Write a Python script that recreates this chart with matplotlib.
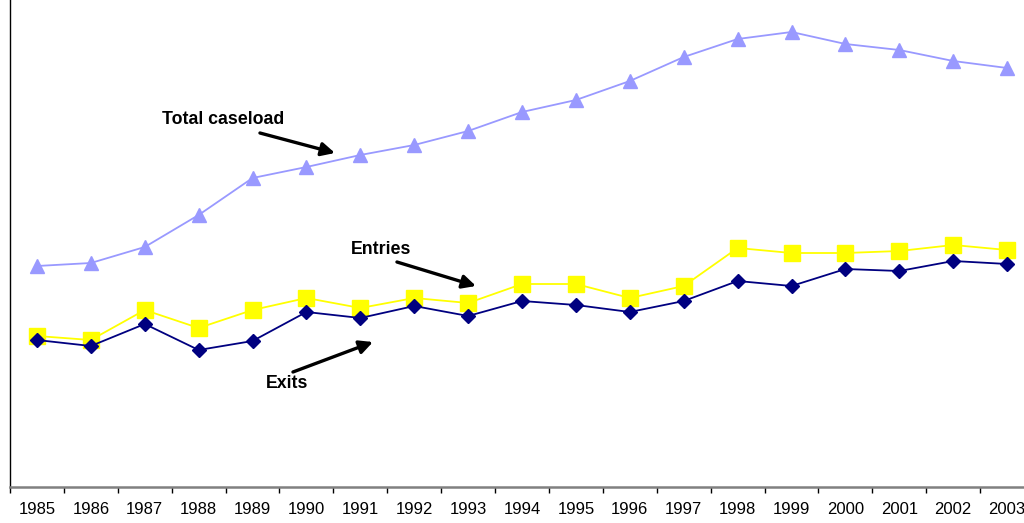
import matplotlib
matplotlib.use("Agg")
import matplotlib.pyplot as plt
import numpy as np

plt.rcParams['font.family'] = ['Liberation Sans', 'DejaVu Sans']

# ── Data (arbitrary units) ────────────────────────────────────
years = [str(y) for y in range(1985, 2004)]
caseload = [221, 224, 240, 272, 309, 320, 332, 342, 356, 375, 387, 406, 430, 448, 455, 443, 437, 426, 419]
entries  = [151, 147, 177, 159, 177, 189, 179, 189, 184, 203, 203, 189, 201, 239, 234, 234, 236, 242, 237]
exits    = [147, 141, 163, 137, 146, 175, 169, 181, 171, 186, 182, 175, 186, 206, 201, 218, 216, 226, 223]

CASE_C  = "#9999FF"
ENTRY_C = "#FFFF00"
EXIT_C  = "#000080"

fig = plt.figure(figsize=(10.24, 5.23), dpi=100)
W, H = 1024, 523
ax = fig.add_axes([10 / W, 36 / H, 19 * 53.9 / W, 487 / H])

x = np.arange(len(years))
ax.plot(x, caseload, color=CASE_C, lw=1.3, marker="^", ms=10, mec=CASE_C, zorder=3)
ax.plot(x, entries, color=ENTRY_C, lw=1.3, marker="s", ms=11.5, mec=ENTRY_C, zorder=3)
ax.plot(x, exits, color=EXIT_C, lw=1.3, marker="D", ms=7.5, mec=EXIT_C, zorder=4)

ax.set_xlim(-0.5, len(years) - 0.5)
ax.set_ylim(0, 487)

# axis styling: only left and bottom spines
ax.spines["top"].set_visible(False)
ax.spines["right"].set_visible(False)
ax.spines["left"].set_color("black")
ax.spines["left"].set_linewidth(1.0)
ax.spines["bottom"].set_color("#808080")
ax.spines["bottom"].set_linewidth(1.8)
ax.set_yticks([])
ax.set_xticks(x)
ax.set_xticklabels(years, fontsize=12)
ax.set_xticks(np.arange(-0.5, len(years)), minor=True)
ax.tick_params(axis="x", which="major", length=0, pad=10.5)
ax.tick_params(axis="x", which="minor", length=4, width=1, color="black", direction="out")

# ── Annotations ───────────────────────────────────────────────
def px(xp, yp):
    # convert picture pixel position to data coordinates
    xd = (xp - 37) / 53.9
    yd = 487 - yp
    return xd, yd

arrow = dict(arrowstyle="-|>,head_length=0.8,head_width=0.4", color="black", lw=2.4, shrinkA=0, shrinkB=0)
ax.annotate("", xy=px(335, 153), xytext=px(260, 133), arrowprops=arrow)
ax.annotate("", xy=px(476, 286), xytext=px(397, 262), arrowprops=arrow)
ax.annotate("", xy=px(373, 342), xytext=px(293, 372), arrowprops=arrow)

ax.text(*px(223, 119), "Total caseload", fontsize=12.8, fontweight="bold", ha="center", va="center")
ax.text(*px(381, 250), "Entries", fontsize=12.8, fontweight="bold", ha="center", va="center")
ax.text(*px(287, 383), "Exits", fontsize=12.8, fontweight="bold", ha="center", va="center")

fig.savefig("out.png", dpi=100)
